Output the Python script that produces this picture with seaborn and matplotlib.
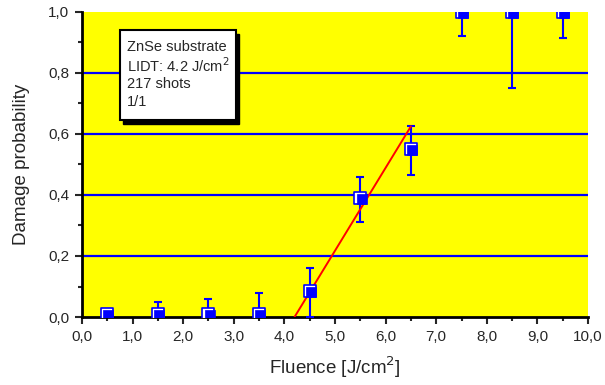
import numpy as np
import pandas as pd
import seaborn as sns
import matplotlib.pyplot as plt
from matplotlib.patches import Rectangle
from matplotlib.ticker import MultipleLocator, FuncFormatter
from matplotlib.transforms import offset_copy

# measured damage probability per fluence bin
fluence = [0.5, 1.5, 2.5, 3.5, 4.5, 5.5, 6.5, 7.5, 8.5, 9.5]
probability = [0.01, 0.01, 0.01, 0.01, 0.085, 0.39, 0.55, 1.0, 1.0, 1.0]
err_low = [0.01, 0.01, 0.01, 0.01, 0.085, 0.08, 0.085, 0.08, 0.25, 0.085]
err_high = [0.015, 0.04, 0.048, 0.068, 0.075, 0.07, 0.075, 0.0, 0.0, 0.0]

# linear fit towards the threshold
fit_x = [4.2, 6.5]
fit_y = [0.0, 0.625]

info_lines = ["ZnSe substrate", "LIDT: 4.2 J/cm$^2$", "217 shots", "1/1"]

sns.set_style("white")
plt.rcParams['font.family'] = ['Liberation Sans', 'DejaVu Sans']

df = pd.DataFrame({"fluence": fluence, "probability": probability})
fit = pd.DataFrame({"x": fit_x, "y": fit_y})

fig = plt.figure(figsize=(6.05, 3.85), dpi=100)
ax = fig.add_axes([0.1355, 0.1766, 0.8365, 0.7924])
ax.set_facecolor("#FFFF00")

ax.set_xlim(0, 10)
ax.set_ylim(0, 1.0)

# blue horizontal grid
for yv in [0.2, 0.4, 0.6, 0.8]:
    ax.axhline(yv, color="#0000FF", lw=1.6, zorder=1)

ax.errorbar(fluence, probability, yerr=[err_low, err_high], fmt="none",
            ecolor="#0000FF", elinewidth=1.5, capsize=3, capthick=1.5, zorder=3)
sns.lineplot(data=fit, x="x", y="y", color="#FF0000", lw=1.4, ax=ax, zorder=4)

# square markers: white-filled outline plus offset filled square
sns.scatterplot(data=df, x="fluence", y="probability", marker="s", s=80,
                facecolor="white", edgecolor="#0000FF", linewidth=1.2,
                ax=ax, zorder=5)
shifted = offset_copy(ax.transData, fig=fig, x=1.2, y=-1.2, units="dots")
sns.scatterplot(data=df, x="fluence", y="probability", marker="s", s=60,
                color="#0000FF", edgecolor="#0000FF", linewidth=0.5,
                ax=ax, zorder=6, transform=shifted)
for coll in ax.collections:
    coll.set_clip_on(True)
    coll.set_clip_path(ax.patch)

# info box with shadow
ax.add_patch(Rectangle((0.082, 0.634), 0.229, 0.295, transform=ax.transAxes,
                       facecolor="black", edgecolor="black", zorder=7))
ax.add_patch(Rectangle((0.075, 0.646), 0.229, 0.295, transform=ax.transAxes,
                       facecolor="white", edgecolor="black", lw=1.5, zorder=8))
for i, line in enumerate(info_lines):
    ax.text(0.088, 0.885 - i * 0.06, line, transform=ax.transAxes, fontsize=10.5,
            va="center", ha="left", zorder=9)

for side in ["top", "right"]:
    ax.spines[side].set_visible(False)
for side in ["left", "bottom"]:
    ax.spines[side].set_linewidth(2)
    ax.spines[side].set_color("black")

ax.xaxis.set_major_locator(MultipleLocator(1))
ax.xaxis.set_minor_locator(MultipleLocator(0.5))
ax.yaxis.set_major_locator(MultipleLocator(0.2))
ax.yaxis.set_minor_locator(MultipleLocator(0.1))
comma = FuncFormatter(lambda v, p: f"{v:.1f}".replace(".", ","))
ax.xaxis.set_major_formatter(comma)
ax.yaxis.set_major_formatter(comma)
ax.tick_params(which="major", direction="out", length=5, width=1.5, labelsize=11,
               left=True, bottom=True, pad=4)
ax.tick_params(which="minor", direction="out", length=3, width=1.5,
               left=True, bottom=True)

ax.set_xlabel("Fluence [J/cm$^2$]", fontsize=13.5, labelpad=8)
ax.set_ylabel("Damage probability", fontsize=13.5, labelpad=13)

fig.savefig("out.png", dpi=100)
